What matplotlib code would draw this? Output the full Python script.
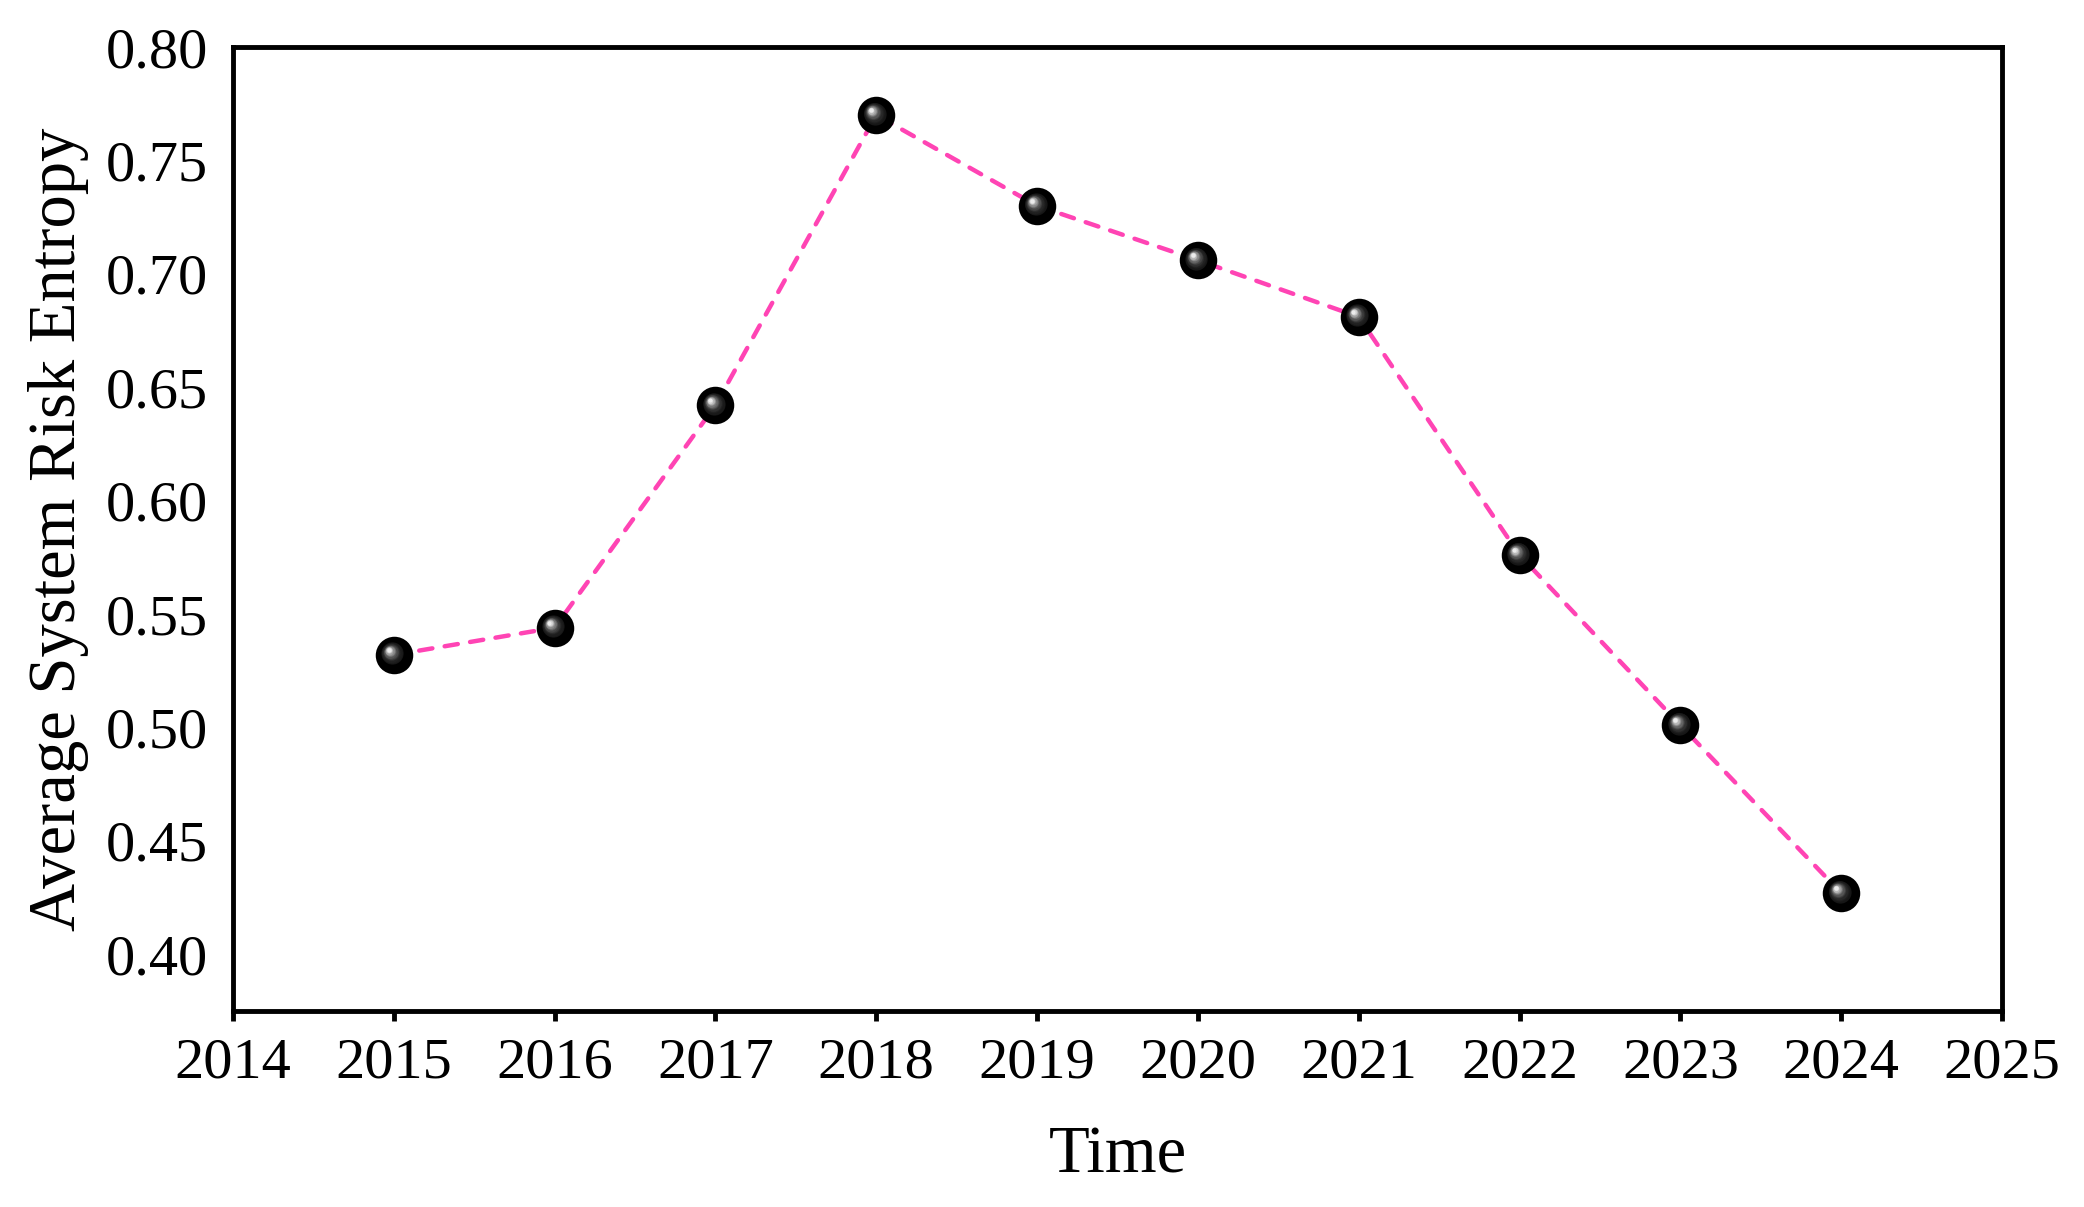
import matplotlib
matplotlib.use('Agg')
import matplotlib.pyplot as plt
import numpy as np

years = [2015, 2016, 2017, 2018, 2019, 2020, 2021, 2022, 2023, 2024]
entropy = [0.532, 0.544, 0.642, 0.770, 0.730, 0.706, 0.681, 0.576, 0.501, 0.427]
xticks = list(range(2014, 2026))
yticks = [0.40, 0.45, 0.50, 0.55, 0.60, 0.65, 0.70, 0.75, 0.80]

plt.rcParams['font.family'] = ['Liberation Serif', 'DejaVu Serif']

fig = plt.figure(figsize=(20.84, 12.07), dpi=100)
ax = fig.add_axes([233 / 2084, 1 - 1011 / 1207, (2002 - 233) / 2084, (1011 - 47) / 1207])

ax.plot(years, entropy, linestyle=(0, (3.0, 2.8)), color='#FF44B4', linewidth=3.2,
        dash_capstyle='round', zorder=2)

# shaded black spheres: dark base plus a soft highlight towards the upper left
ax.plot(years, entropy, 'o', markersize=27, color='black', markeredgewidth=0, zorder=3)
n_layers = 16
for i in range(n_layers):
    t = i / (n_layers - 1)
    size = 16 * (1 - t) + 3 * t
    shade = 0.10 + 0.85 * t ** 2.0
    trans = matplotlib.transforms.offset_copy(ax.transData, fig=fig, x=-3.8 * (0.3 + 0.7 * t),
                                              y=3.6 * (0.3 + 0.7 * t), units='points')
    ax.plot(years, entropy, 'o', markersize=size, color=(shade, shade, shade), markeredgewidth=0,
            alpha=0.85, zorder=4 + i, transform=trans)

ax.set_xlim(2014, 2025)
ax.set_ylim(0.375, 0.80)
ax.set_xticks(xticks)
ax.set_yticks(yticks)
ax.set_yticklabels([f'{v:.2f}' for v in yticks])

for sp in ax.spines.values():
    sp.set_linewidth(3.5)

ax.tick_params(axis='x', direction='out', length=7, width=3.5, pad=12, labelsize=42)
ax.tick_params(axis='y', length=0, pad=18, labelsize=42)

ax.set_xlabel('Time', fontsize=48, labelpad=26)
ax.set_ylabel('Average System Risk Entropy', fontsize=48, labelpad=12)

fig.savefig('out.png', dpi=100)
